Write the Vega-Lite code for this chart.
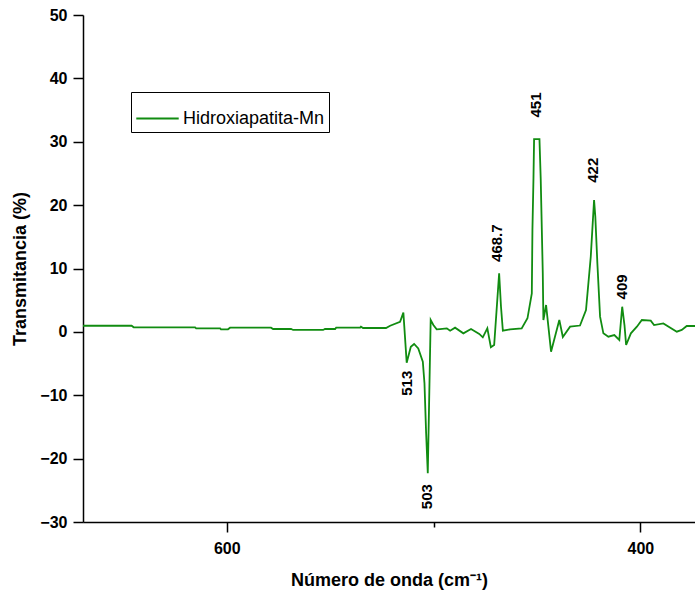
{
  "$schema": "https://vega.github.io/schema/vega-lite/v6.json",
  "autosize": {"type": "none"},
  "padding": {"left": 83, "top": 15, "right": 0, "bottom": 72},
  "width": 612,
  "height": 507,
  "background": "white",
  "config": {
    "font": "Liberation Sans",
    "view": {"stroke": null},
    "axis": {
      "domainColor": "black",
      "domainWidth": 1.5,
      "tickColor": "black",
      "tickWidth": 1.5,
      "grid": false,
      "labelFont": "Liberation Sans",
      "labelFontSize": 16,
      "labelFontWeight": "bold",
      "labelColor": "black",
      "titleFont": "Liberation Sans",
      "titleFontSize": 18,
      "titleFontWeight": "bold",
      "titleColor": "black"
    }
  },
  "datasets": {
    "espectro": [
      {"w": 669.5, "t": 0.97}, {"w": 646, "t": 0.97}, {"w": 645, "t": 0.72},
      {"w": 615.3, "t": 0.72}, {"w": 614.8, "t": 0.56}, {"w": 603.2, "t": 0.56},
      {"w": 602.8, "t": 0.41}, {"w": 599.4, "t": 0.41}, {"w": 598.4, "t": 0.66},
      {"w": 578.6, "t": 0.66}, {"w": 577.6, "t": 0.45}, {"w": 568.9, "t": 0.45},
      {"w": 567.9, "t": 0.3}, {"w": 553.4, "t": 0.3}, {"w": 552.5, "t": 0.45},
      {"w": 547.6, "t": 0.45}, {"w": 547.1, "t": 0.66}, {"w": 535.5, "t": 0.66},
      {"w": 535.1, "t": 0.82}, {"w": 534.1, "t": 0.61}, {"w": 523, "t": 0.61},
      {"w": 521, "t": 0.97}, {"w": 516.2, "t": 1.6}, {"w": 514.6, "t": 3.03},
      {"w": 513.0, "t": -4.86}, {"w": 511.0, "t": -2.34}, {"w": 509.4, "t": -1.91},
      {"w": 507.4, "t": -2.6}, {"w": 505.2, "t": -4.7}, {"w": 504.4, "t": -8.1},
      {"w": 503.6, "t": -16.0}, {"w": 502.8, "t": -22.3}, {"w": 501.4, "t": 1.87},
      {"w": 500.1, "t": 1.08}, {"w": 498.5, "t": 0.4}, {"w": 496.9, "t": 0.45},
      {"w": 493.6, "t": 0.56}, {"w": 492.0, "t": 0.18}, {"w": 489.6, "t": 0.66},
      {"w": 485.6, "t": -0.23}, {"w": 481.9, "t": 0.45}, {"w": 477.9, "t": -0.33},
      {"w": 476.2, "t": -0.86}, {"w": 474.0, "t": 0.56}, {"w": 472.3, "t": -2.43},
      {"w": 470.7, "t": -2.07}, {"w": 468.3, "t": 9.24}, {"w": 467.4, "t": 3.97},
      {"w": 466.5, "t": 0.18}, {"w": 463.0, "t": 0.4}, {"w": 457.4, "t": 0.56},
      {"w": 454.6, "t": 2.14}, {"w": 452.5, "t": 6.08}, {"w": 452.2, "t": 16.07},
      {"w": 451.7, "t": 24.2}, {"w": 451.4, "t": 30.4}, {"w": 448.8, "t": 30.4},
      {"w": 448.2, "t": 24.2}, {"w": 447.2, "t": 9.24}, {"w": 446.9, "t": 1.87},
      {"w": 445.6, "t": 4.24}, {"w": 445.0, "t": 2.4}, {"w": 443.2, "t": -3.13},
      {"w": 439.2, "t": 1.87}, {"w": 437.5, "t": -0.8}, {"w": 434.0, "t": 0.82},
      {"w": 429.2, "t": 1.0}, {"w": 426.3, "t": 3.45}, {"w": 424.0, "t": 11.86},
      {"w": 422.4, "t": 20.8}, {"w": 421.8, "t": 18.2}, {"w": 420.8, "t": 10.8},
      {"w": 419.5, "t": 2.4}, {"w": 417.9, "t": -0.23}, {"w": 415.5, "t": -0.76},
      {"w": 412.6, "t": -0.5}, {"w": 410.2, "t": -1.28}, {"w": 408.8, "t": 3.97},
      {"w": 407.7, "t": 1.08}, {"w": 406.9, "t": -2.07}, {"w": 404.6, "t": -0.23},
      {"w": 401.7, "t": 0.82}, {"w": 399.3, "t": 1.87}, {"w": 395.0, "t": 1.76},
      {"w": 393.4, "t": 1.08}, {"w": 388.9, "t": 1.34}, {"w": 382.4, "t": 0.03},
      {"w": 380.0, "t": 0.3}, {"w": 377.6, "t": 0.93}, {"w": 373.6, "t": 0.93}
    ],
    "picos": [
      {"w": 513, "t": -8.1, "etiqueta": "513"},
      {"w": 503.3, "t": -26.0, "etiqueta": "503"},
      {"w": 469.4, "t": 14.0, "etiqueta": "468.7"},
      {"w": 450.3, "t": 35.8, "etiqueta": "451"},
      {"w": 422.7, "t": 25.5, "etiqueta": "422"},
      {"w": 409, "t": 7.1, "etiqueta": "409"}
    ]
  },
  "layer": [
    {
      "data": {"name": "espectro"},
      "mark": {"type": "line", "strokeWidth": 1.8, "clip": true},
      "encoding": {
        "x": {
          "field": "w", "type": "quantitative",
          "scale": {"domain": [373.6, 669.5], "reverse": true, "nice": false, "zero": false},
          "axis": {
            "title": "Número de onda (cm⁻¹)",
            "values": [400, 500, 600],
            "labelExpr": "datum.value == 500 ? '' : datum.label",
            "tickSize": {"condition": {"test": "datum.value == 500", "value": 5}, "value": 10},
            "labelPadding": 8,
            "titlePadding": 15
          }
        },
        "y": {
          "field": "t", "type": "quantitative",
          "scale": {"domain": [-30, 50], "nice": false, "zero": false},
          "axis": {
            "title": "Transmitancia (%)",
            "values": [-30, -25, -20, -15, -10, -5, 0, 5, 10, 15, 20, 25, 30, 35, 40, 45, 50],
            "labelExpr": "datum.value % 10 == 0 ? datum.label : ''",
            "tickSize": {"condition": {"test": "datum.value % 10 != 0", "value": 5}, "value": 10},
            "labelPadding": 6,
            "titlePadding": 10
          }
        },
        "color": {
          "datum": "Hidroxiapatita-Mn",
          "scale": {"range": ["#118c11"]},
          "legend": {
            "title": null,
            "orient": "none",
            "legendX": 48,
            "legendY": 77,
            "strokeColor": "black",
            "fillColor": "white",
            "padding": 4,
            "symbolType": "stroke",
            "symbolSize": 1800,
            "symbolStrokeWidth": 2,
            "labelFont": "Liberation Sans",
            "labelFontSize": 18,
            "labelColor": "black",
            "labelOffset": 3,
            "labelLimit": 0
          }
        }
      }
    },
    {
      "data": {"name": "picos"},
      "mark": {"type": "text", "angle": 270, "align": "center", "baseline": "middle", "font": "Liberation Sans", "fontSize": 15, "fontWeight": "bold", "color": "black"},
      "encoding": {
        "x": {"field": "w", "type": "quantitative"},
        "y": {"field": "t", "type": "quantitative"},
        "text": {"field": "etiqueta"}
      }
    }
  ]
}
